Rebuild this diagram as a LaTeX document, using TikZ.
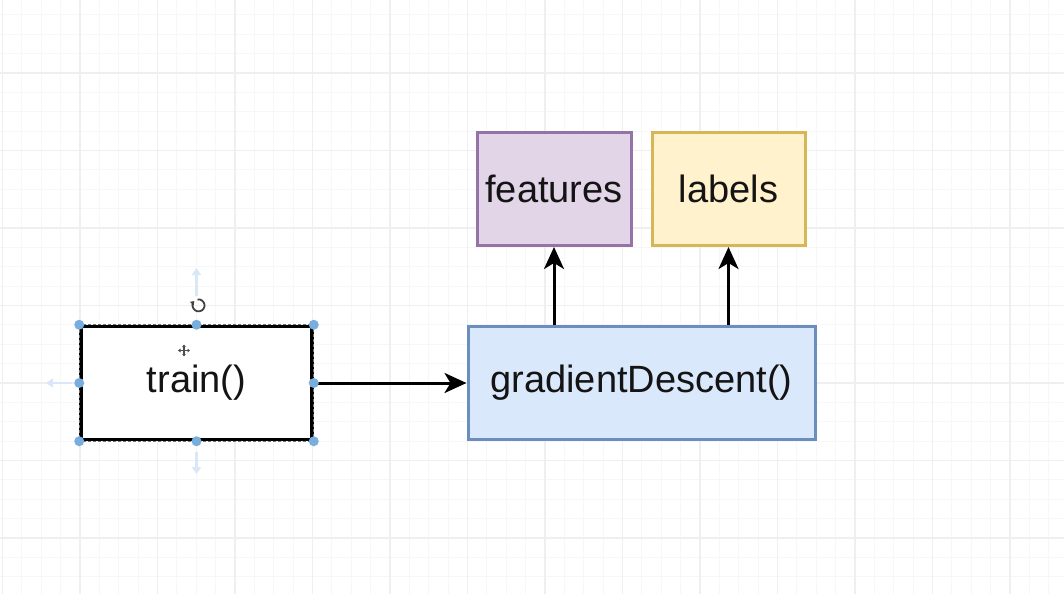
\documentclass[tikz,border=0pt]{standalone}
\usepackage{fontspec}
\setmainfont{Liberation Sans}
\usetikzlibrary{arrows.meta}
\definecolor{minorline}{HTML}{F7F7F7}
\definecolor{majorline}{HTML}{EFEFEF}
\definecolor{featfill}{HTML}{E1D5E7}
\definecolor{featdraw}{HTML}{9673A6}
\definecolor{labfill}{HTML}{FFF2CC}
\definecolor{labdraw}{HTML}{D6B656}
\definecolor{gdfill}{HTML}{DAE8FC}
\definecolor{gddraw}{HTML}{6C8EBF}
\definecolor{handle}{HTML}{78AEDE}
\definecolor{hover}{HTML}{D8E8F7}
\tikzset{
  box/.style={
    draw,line width=3pt,inner sep=0pt,minimum height=113pt,
    font=\fontsize{38}{44}\selectfont,text=black!92
  },
  flow/.style={
    line width=3pt,-{Stealth[length=22pt,width=20pt,inset=6pt]}
  },
  hoverarrow/.style={
    hover,line width=2.5pt,-{Triangle[length=7pt,width=9pt]}
  },
  dot/.style={circle,fill=handle,inner sep=0pt,minimum size=10pt}
}
\begin{document}
\begin{tikzpicture}[x=1pt,y=-1pt]
\useasboundingbox (0,0) rectangle (1064,594);
\fill[white] (0,0) rectangle (1064,594);
% background grid
\foreach \k in {0,...,54} {
  \pgfmathsetmacro{\gx}{2.5+19.375*\k}
  \draw[minorline,line width=1pt] (\gx,0) -- (\gx,594);
}
\foreach \k in {1,...,31} {
  \pgfmathsetmacro{\gy}{-4.5+19.375*\k}
  \draw[minorline,line width=1pt] (0,\gy) -- (1064,\gy);
}
\foreach \k in {0,...,13} {
  \pgfmathsetmacro{\gx}{2.5+77.5*\k}
  \draw[majorline,line width=1.3pt] (\gx,0) -- (\gx,594);
}
\foreach \k in {1,...,7} {
  \pgfmathsetmacro{\gy}{-4.5+77.5*\k}
  \draw[majorline,line width=1.3pt] (0,\gy) -- (1064,\gy);
}

\node[box,fill=white,line width=3.5pt,minimum width=231pt] (train) at (196.5,383) {train()};
\draw[white!45!black,line width=1pt,dash pattern=on 3pt off 2pt]
  (train.north west) rectangle (train.south east);
\node[box,fill=gdfill,draw=gddraw,minimum width=347pt] (gd) at (641.5,383) {gradientDescent()};
\node[box,fill=featfill,draw=featdraw,minimum width=154pt] (feat) at (554,189) {features};
\node[box,fill=labfill,draw=labdraw,minimum width=153pt] (lab) at (728.5,189) {labels};

\draw[flow] (train.east) -- (gd.west);
\draw[flow] (gd.north -| feat.south) -- (feat.south);
\draw[flow] (gd.north -| lab.south) -- (lab.south);

% selection handles
\foreach \a in {north west,north,north east,east,south east,south,south west,west}
  \node[dot] at (train.\a) {};
\coordinate (upfrom) at (196.5,296);
\coordinate (upto) at (196.5,268);
\coordinate (leftfrom) at (72,383);
\coordinate (leftto) at (46,383);
\coordinate (downfrom) at (196.5,452);
\coordinate (downto) at (196.5,474);
\draw[hoverarrow] (upfrom) -- (upto);
\draw[hoverarrow] (leftfrom) -- (leftto);
\draw[hoverarrow] (downfrom) -- (downto);
% rotate and move marks
\draw[black!75,line width=1.8pt,-{Triangle[length=3.5pt,width=5pt]}]
  (197.5,299.5) arc[start angle=100,end angle=-225,radius=6pt];
\draw[black!70,line width=1.4pt,{Triangle[length=2.5pt,width=3.5pt]}-{Triangle[length=2.5pt,width=3.5pt]}]
  (178,350.5) -- (190,350.5);
\draw[black!70,line width=1.4pt,{Triangle[length=2.5pt,width=3.5pt]}-{Triangle[length=2.5pt,width=3.5pt]}]
  (184,344.5) -- (184,356.5);
\end{tikzpicture}
\end{document}
